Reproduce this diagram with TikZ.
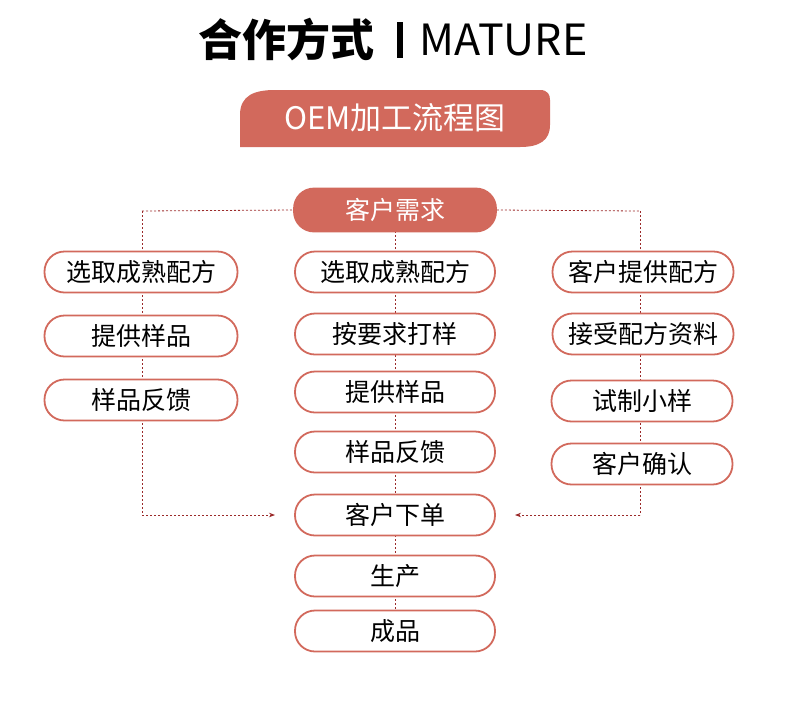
\documentclass[tikz,border=0pt]{standalone}
\usepackage{fontspec}
\setmainfont{Noto Sans CJK SC}
\usetikzlibrary{arrows.meta}
\definecolor{rc}{HTML}{D2695C}
\definecolor{lc}{HTML}{9B2A2A}
\begin{document}
\begin{tikzpicture}[x=1pt,y=-1pt,
 box/.style={draw=rc,line width=1.8pt,rounded corners=20pt,minimum height=41pt,fill=white,font=\fontsize{25}{27}\selectfont,inner sep=0pt},
 lbox/.style={box,minimum width=193pt},
 mbox/.style={box,minimum width=200pt},
 rbox/.style={box,minimum width=181pt},
 dl/.style={draw=lc,line width=0.8pt,dash pattern=on 2pt off 2pt}]
\useasboundingbox (0,0) rectangle (790,705);
\node[font=\fontsize{44}{48}\selectfont\bfseries,anchor=east] (t1) at (378,40) {合作方式};
\fill (397,22) rectangle (403,58);
\node[font=\fontsize{43}{46}\selectfont,anchor=west] (t2) at (416,40) {MATURE};
\fill[rc] (240,147) -- (240,115) .. controls (240,95) and (255,90) .. (275,90) -- (540,90) .. controls (548,90) and (550,95) .. (550,100) -- (550,125) .. controls (550,140) and (540,147) .. (520,147) -- cycle;
\node[text=white,font=\fontsize{31}{33}\selectfont] (ban) at (395,118) {OEM加工流程图};
\coordinate (L0) at (142,211); \coordinate (R0) at (640,211);
\coordinate (L1) at (142,515); \coordinate (R1) at (640,515);
\coordinate (la) at (275,515); \coordinate (ra) at (515,515);
\draw[dl] (L0) -- (L1); \draw[dl] (R0) -- (R1);
\draw[dl,-{Stealth[length=6pt]}] (L1) -- (la);
\draw[dl,-{Stealth[length=6pt]}] (R1) -- (ra);
\coordinate (ctop) at (395,231); \coordinate (cbot) at (395,631);
\draw[dl] (ctop) -- (cbot);
\node[box,fill=rc,draw=rc,text=white,minimum width=202pt,minimum height=43pt] (top) at (395,210) {客户需求};
\draw[dl] (L0) -- (top.west); \draw[dl] (top.east) -- (R0);
\node[lbox] (l1) at (141,272) {选取成熟配方};
\node[lbox] (l2) at (141,336) {提供样品};
\node[lbox] (l3) at (141,400) {样品反馈};
\node[mbox] (m1) at (395,272) {选取成熟配方};
\node[mbox] (m2) at (395,334) {按要求打样};
\node[mbox] (m3) at (395,392) {提供样品};
\node[mbox] (m4) at (395,452) {样品反馈};
\node[mbox] (m5) at (395,515) {客户下单};
\node[mbox] (m6) at (395,576) {生产};
\node[mbox] (m7) at (395,631) {成品};
\node[rbox] (r1) at (643,272) {客户提供配方};
\node[rbox] (r2) at (643,334) {接受配方资料};
\node[rbox] (r3) at (642,401) {试制小样};
\node[rbox] (r4) at (642,464) {客户确认};
\end{tikzpicture}
\end{document}
